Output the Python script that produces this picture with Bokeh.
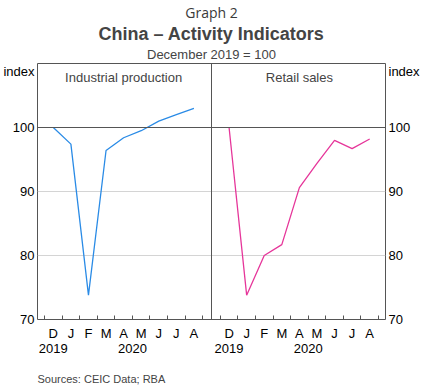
from bokeh.plotting import figure
from bokeh.models import Range1d, LinearAxis, FixedTicker, Span, Label, Title, ColumnDataSource
from bokeh.embed import file_html
from bokeh.resources import INLINE

# ---- data ----
months = ["D", "J", "F", "M", "A", "M", "J", "J", "A"]
year_labels = ["2019", "2020"]
industrial = [100.0, 97.4, 73.8, 96.4, 98.4, 99.5, 101.0, 102.0, 103.0]
retail = [100.0, 73.8, 80.0, 81.7, 90.6, 94.4, 98.0, 96.7, 98.2]
panel_titles = ["Industrial production", "Retail sales"]
y_ticks = [70, 80, 90, 100]
unit_label = "index"

FONT = "Liberation Sans"
LINE_DARK = "#555555"

# panel layout in x (month index units): Dec of panel k is at 1 + 10*k
offsets = [1, 11]
panel_edges = [(0.1, 9.9), (10.1, 19.9)]
n = len(months)

p = figure(frame_width=348, frame_height=256,
           x_range=Range1d(0.1, 19.9), y_range=Range1d(70, 110),
           output_backend="svg", toolbar_location=None,
           min_border_left=32, min_border_right=32, min_border_top=7, min_border_bottom=0,
           background_fill_color="white", border_fill_color="white")

p.outline_line_color = LINE_DARK
p.outline_line_width = 1
p.xgrid.grid_line_color = None
p.ygrid.ticker = FixedTicker(ticks=[80, 90])
p.ygrid.grid_line_color = "#d4d4d4"
p.ygrid.grid_line_width = 1

# series
colors = ["#2a8be6", "#e6369a"]
for k, series in enumerate([industrial, retail]):
    xs = [i + offsets[k] for i in range(len(series))]
    src = ColumnDataSource(dict(x=xs, y=series))
    p.line("x", "y", source=src, line_color=colors[k], line_width=1.3)

# reference line at 100 and panel divider
p.add_layout(Span(location=100, dimension="width", line_color=LINE_DARK, line_width=1))
p.add_layout(Span(location=10, dimension="height", line_color=LINE_DARK, line_width=1))

# x axis: month labels with boundary minor ticks
centers = [i + off for off in offsets for i in range(n)]
bounds = [i + off - 0.5 for off in offsets for i in range(n + 1)]
xa = p.xaxis[0]
xa.ticker = FixedTicker(ticks=centers, minor_ticks=bounds)
xa.major_label_overrides = {c: months[i % n] for i, c in enumerate(centers)}
xa.axis_line_color = None
xa.major_tick_in = 0
xa.major_tick_out = 0
xa.minor_tick_in = 4
xa.minor_tick_out = 0
xa.minor_tick_line_color = LINE_DARK
xa.major_label_standoff = 6
xa.major_label_text_font = FONT
xa.major_label_text_font_size = "13px"
xa.major_label_text_color = "black"

# year axis
year_pos = []
year_over = {}
for off in offsets:
    for j, pos in enumerate([off + 0.0, off + 4.5]):
        year_pos.append(pos)
        year_over[pos] = year_labels[j]
ya2 = LinearAxis(ticker=FixedTicker(ticks=year_pos), major_label_overrides=year_over)
ya2.axis_line_color = None
ya2.major_tick_in = 0
ya2.major_tick_out = 0
ya2.minor_tick_in = 0
ya2.minor_tick_out = 0
ya2.major_label_standoff = 0
ya2.major_label_text_font = FONT
ya2.major_label_text_font_size = "13px"
ya2.major_label_text_color = "black"
p.add_layout(ya2, "below")

# y axes (the "index" unit label sits just below the top of the frame)
unit_pos = 108.8
ly = p.yaxis[0]
ry = LinearAxis()
p.add_layout(ry, "right")
for ax in (ly, ry):
    ax.ticker = FixedTicker(ticks=y_ticks + [unit_pos])
    ax.major_label_overrides = {unit_pos: unit_label}
    ax.axis_line_color = None
    ax.major_tick_in = 0
    ax.major_tick_out = 0
    ax.minor_tick_in = 0
    ax.minor_tick_out = 0
    ax.major_label_standoff = 3
    ax.major_label_text_font = FONT
    ax.major_label_text_font_size = "13px"
    ax.major_label_text_color = "black"

# panel titles
for k, (a, b) in enumerate(panel_edges):
    p.add_layout(Label(x=(a + b) / 2, y=110, y_offset=-6, text=panel_titles[k], text_align="center",
                       text_baseline="top", text_font=FONT, text_font_size="13px"))

# titles (first added = closest to plot)
p.add_layout(Title(text="December 2019 = 100", align="center", text_font=FONT,
                   text_font_size="13px", text_font_style="normal", standoff=3), "above")
p.add_layout(Title(text="China \u2013 Activity Indicators", align="center", text_font=FONT,
                   text_font_size="18px", text_font_style="bold", standoff=0), "above")
p.add_layout(Title(text="Graph 2", align="center", text_font="Open Sans",
                   text_font_size="14px", text_font_style="normal", text_color="#3a3a3a", standoff=0), "above")

p.add_layout(Title(text="Sources: CEIC Data; RBA", align="left", text_font=FONT,
                   text_font_size="11px", text_font_style="normal", standoff=31), "below")

open("out.html", "w").write(file_html(p, INLINE))
